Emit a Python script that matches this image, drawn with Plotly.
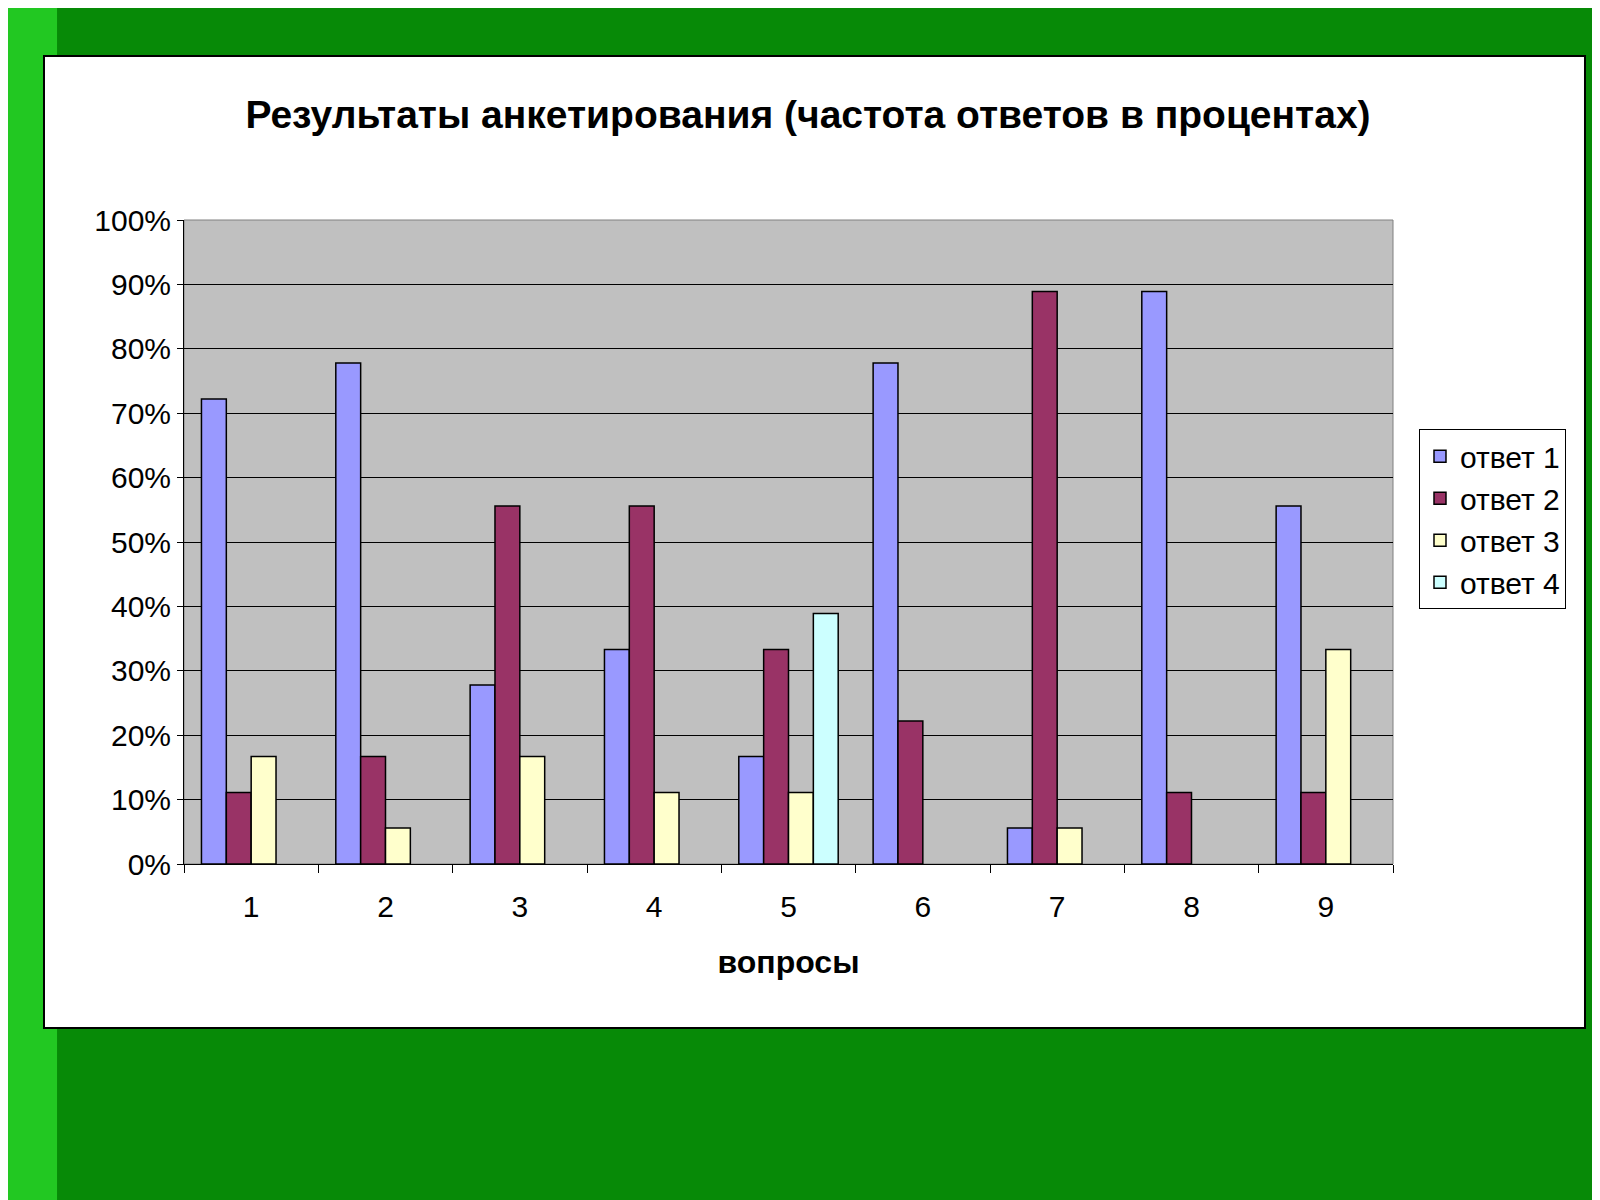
import plotly.graph_objects as go

questions = ["1", "2", "3", "4", "5", "6", "7", "8", "9"]
answer1 = [72.2, 77.8, 27.8, 33.3, 16.7, 77.8, 5.6, 88.9, 55.6]
answer2 = [11.1, 16.7, 55.6, 55.6, 33.3, 22.2, 88.9, 11.1, 11.1]
answer3 = [16.7, 5.6, 16.7, 11.1, 11.1, None, 5.6, None, 33.3]
answer4 = [None, None, None, None, 38.9, None, None, None, None]
names = ["ответ 1", "ответ 2", "ответ 3", "ответ 4"]
colors = ["#9999FF", "#993366", "#FFFFCC", "#CCFFFF"]

fig = go.Figure()
for n, vals, c in zip(names, [answer1, answer2, answer3, answer4], colors):
    fig.add_trace(go.Bar(x=questions, y=vals, name=n, marker=dict(color=c, line=dict(color="black", width=1.5))))

F = "Liberation Sans, Arial"
fig.update_layout(
    width=1600, height=1200, barmode="group", bargap=0.26, bargroupgap=0,
    margin=dict(l=176, r=215, t=212, b=344),
    paper_bgcolor="#078a07", plot_bgcolor="#c0c0c0",
    font=dict(family=F, size=30, color="black"),
    title=dict(text="<b>Результаты анкетирования (частота ответов в процентах)</b>",
               x=0.5, xanchor="center", y=1 - 106 / 1200, yanchor="middle", font=dict(size=39)),
    legend=dict(x=1.0215, y=0.675, xanchor="left", yanchor="top", bgcolor="white",
                bordercolor="black", borderwidth=1, font=dict(size=30), tracegroupgap=4),
    xaxis=dict(title=dict(text="<b>вопросы</b>", font=dict(size=32), standoff=28),
               showline=True, linecolor="black", linewidth=1, ticks="outside", tickson="boundaries",
               ticklen=8, tickcolor="black", ticklabelstandoff=16),
    yaxis=dict(range=[0, 100], dtick=10, ticksuffix="%", showgrid=True, gridcolor="black", gridwidth=1,
               showline=True, linecolor="black", ticks="outside", ticklen=6, tickcolor="black", zeroline=False),
    shapes=[
        dict(type="rect", xref="paper", yref="paper", x0=-0.16, x1=-0.105, y0=-0.6, y1=1.4,
             fillcolor="#22c822", line=dict(width=0), layer="below"),
        dict(type="rect", xref="paper", yref="paper", x0=-0.1158, x1=1.1588, y0=-0.2547, y1=1.2547,
             fillcolor="white", line=dict(color="black", width=2), layer="below"),
        dict(type="rect", xref="paper", yref="paper", x0=0, x1=1, y0=0, y1=1,
             fillcolor="#c0c0c0", line=dict(color="#808080", width=1), layer="below"),
    ],
)
fig.write_html("out.html")
